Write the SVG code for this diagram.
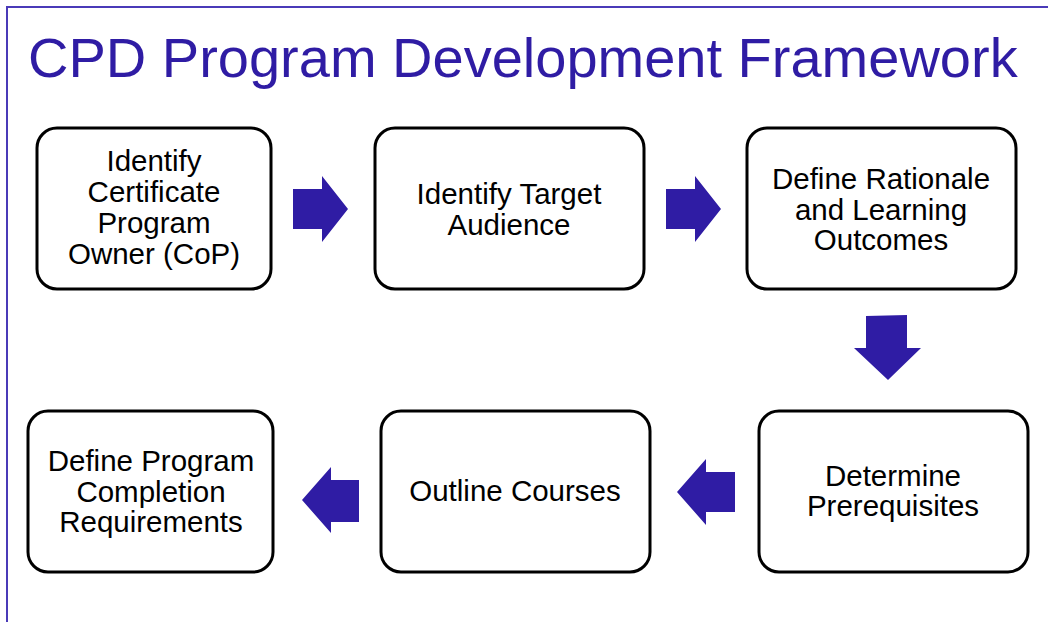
<svg xmlns="http://www.w3.org/2000/svg" width="1048" height="622" viewBox="0 0 1048 622">
<style>
.frame{fill:none;stroke:#4a3ab8;stroke-width:2}
.box{fill:#fff;stroke:#000;stroke-width:3}
.t{font-family:"Liberation Sans",Arial,sans-serif;font-size:29.5px;fill:#000;text-anchor:middle}
.title{font-family:"Liberation Sans",Arial,sans-serif;font-size:56px;fill:#2f1ca4}
.arr{fill:#2f1ca4}
</style>
<rect width="1048" height="622" fill="#fff"/>
<path class="frame" d="M1048 7 H7 V622"/>
<text class="title" x="28" y="77">CPD Program Development Framework</text>
<g id="n1"><rect class="box" x="37" y="128" width="234" height="161" rx="20"/>
<text class="t" x="154" y="171">Identify</text><text class="t" x="154" y="202">Certificate</text><text class="t" x="154" y="233">Program</text><text class="t" x="154" y="264">Owner (CoP)</text></g>
<g id="n2"><rect class="box" x="375" y="128" width="269" height="161" rx="20"/>
<text class="t" x="509" y="204">Identify Target</text><text class="t" x="509" y="235">Audience</text></g>
<g id="n3"><rect class="box" x="747" y="128" width="269" height="161" rx="20"/>
<text class="t" x="881" y="189">Define Rationale</text><text class="t" x="881" y="220">and Learning</text><text class="t" x="881" y="250">Outcomes</text></g>
<g id="n4"><rect class="box" x="28" y="411" width="245" height="161" rx="20"/>
<text class="t" x="151" y="471">Define Program</text><text class="t" x="151" y="502">Completion</text><text class="t" x="151" y="532">Requirements</text></g>
<g id="n5"><rect class="box" x="381" y="411" width="269" height="161" rx="20"/>
<text class="t" x="515" y="501">Outline Courses</text></g>
<g id="n6"><rect class="box" x="759" y="411" width="269" height="161" rx="20"/>
<text class="t" x="893" y="486">Determine</text><text class="t" x="893" y="516">Prerequisites</text></g>
<g id="connectors">
<polygon class="arr" points="293,189 322,189 322,176 348,209 322,242 322,229 293,229"/>
<polygon class="arr" points="666,189 695,189 695,176 721,209 695,242 695,229 666,229"/>
<polygon class="arr" points="866,316 907,315 907,348 921,348 888,380 854,348 866,348"/>
<polygon class="arr" points="735,472 706,472 706,459 677,492 706,525 706,512 735,512"/>
<polygon class="arr" points="359,480 331,480 331,467 302,500 331,533 331,522 359,522"/>
</g>
</svg>
